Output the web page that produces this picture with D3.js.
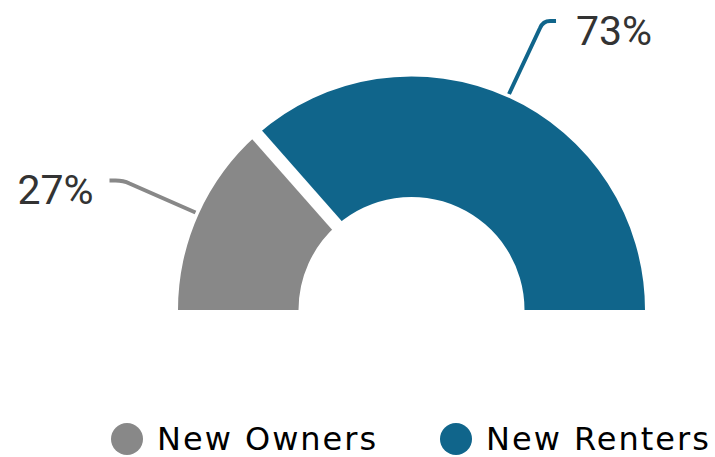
<!DOCTYPE html>
<html>
<head>
<meta charset="utf-8">
<script src="https://cdn.jsdelivr.net/npm/d3@7/dist/d3.min.js"></script>
<style>
  html, body { margin: 0; padding: 0; background: #fff; }
  svg { display: block; }
</style>
</head>
<body>
<svg id="chart" width="715" height="457"></svg>
<script>
// Share of new households by tenure
const categories = ["New Owners", "New Renters"];
const shares = [27, 73];
const valueLabels = ["27%", "73%"];
const colors = ["#888888", "#10658b"];

const W = 715, H = 457;
const cx = 411.5, cy = 310;
const outerR = 233.5, innerR = 113;
const gapWidth = 13;

const svg = d3.select("#chart");

// Half donut: angles run from -90° (left) to +90° (right)
const pie = d3.pie()
  .sort(null)
  .value(d => d)
  .startAngle(-Math.PI / 2)
  .endAngle(Math.PI / 2);

const arcs = pie(shares);

const arc = d3.arc()
  .innerRadius(innerR)
  .outerRadius(outerR);

const g = svg.append("g").attr("transform", `translate(${cx},${cy})`);

g.selectAll("path.slice")
  .data(arcs)
  .enter()
  .append("path")
  .attr("class", "slice")
  .attr("d", arc)
  .attr("fill", (d, i) => colors[i]);

// White separators between neighbouring slices
arcs.slice(0, -1).forEach(d => {
  const a = d.endAngle;
  const sx = Math.sin(a), sy = -Math.cos(a);
  g.append("line")
    .attr("x1", (innerR - 4) * sx).attr("y1", (innerR - 4) * sy)
    .attr("x2", (outerR + 4) * sx).attr("y2", (outerR + 4) * sy)
    .attr("stroke", "#fff")
    .attr("stroke-width", gapWidth);
});

// Leader lines and value labels
const anchorR = outerR + 3.5;
const leaders = [
  // label end offset (dx, dy) from the anchor on the slice, side of the label
  { dx: -86, dy: -32, side: "left" },
  { dx: 47, dy: -73, side: "right" }
];

arcs.forEach((d, i) => {
  const mid = (d.startAngle + d.endAngle) / 2;
  const ax = anchorR * Math.sin(mid);
  const ay = -anchorR * Math.cos(mid);
  const L = leaders[i];
  const ex = ax + L.dx, ey = ay + L.dy;
  let p;
  if (L.side === "left") {
    // horizontal stub from the label, then a bend down to the slice
    const bx = ex + 14;
    p = `M${ex},${ey} L${ex + 6},${ey} Q${bx},${ey} ${bx + 6},${ey + 3} L${ax},${ay}`;
  } else {
    const bx = ex - 13;
    p = `M${ex},${ey} L${ex - 6},${ey} Q${bx},${ey} ${bx - 3},${ey + 7} L${ax},${ay}`;
  }
  g.append("path")
    .attr("d", p)
    .attr("fill", "none")
    .attr("stroke", colors[i])
    .attr("stroke-width", 4);

  g.append("text")
    .attr("x", L.side === "left" ? ex - 16 : ex + 20)
    .attr("y", ey + 9)
    .attr("dy", "0.36em")
    .attr("text-anchor", L.side === "left" ? "end" : "start")
    .attr("font-family", "Roboto, sans-serif")
    .attr("font-size", 41)
    .attr("fill", "#333333")
    .text(valueLabels[i]);
});

// Legend
const legendX = [127, 456];
const legend = svg.append("g");
categories.forEach((c, i) => {
  const item = legend.append("g").attr("transform", `translate(${legendX[i]},439)`);
  item.append("circle").attr("r", 16).attr("fill", colors[i]);
  item.append("text")
    .attr("x", 30)
    .attr("y", 11)
    .attr("font-family", "'DejaVu Sans', sans-serif")
    .attr("font-size", 32)
    .attr("letter-spacing", 2)
    .attr("fill", "#000")
    .text(c);
});
</script>
</body>
</html>
